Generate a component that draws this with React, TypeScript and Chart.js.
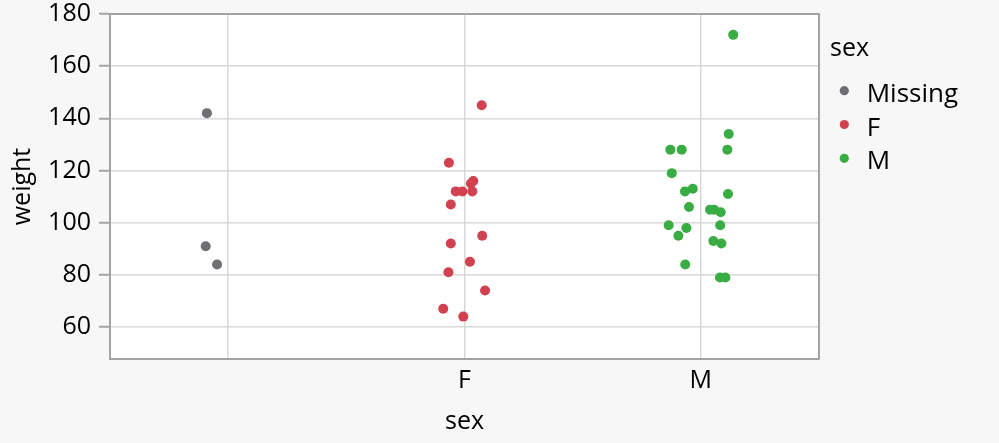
import React, { useEffect, useRef } from "react";
import { Chart, registerables } from "chart.js";

Chart.register(...registerables);

// ---- data ----
const categories = ["Missing", "F", "M"];
const xTickLabels = ["", "F", "M"];
const yTicks = [60, 80, 100, 120, 140, 160, 180];

const missingWeight = [142, 91, 84];
const missingJitter = [-0.09, -0.095, -0.047];

const fWeight = [145, 123, 116, 115, 112, 112, 112, 107, 95, 92, 85, 81, 74, 67, 64];
const fJitter = [0.073, -0.066, 0.037, 0.027, -0.037, -0.009, 0.033, -0.058, 0.075, -0.058, 0.023, -0.068, 0.087, -0.09, -0.005];

const mWeight = [172, 134, 128, 128, 128, 119, 112, 113, 111, 106, 105, 105, 104, 99, 99, 98, 95, 93, 92, 84, 79, 79];
const mJitter = [0.137, 0.118, -0.129, -0.081, 0.112, -0.123, -0.067, -0.034, 0.115, -0.05, 0.039, 0.056, 0.084, -0.136, 0.082, -0.061, -0.095, 0.053, 0.087, -0.066, 0.081, 0.104];

const seriesColors = ["#6f6f73", "#d1414f", "#3aac44"];

const FONT = "'Open Sans', 'Noto Sans', sans-serif";
const AXIS_GRAY = "#a3a3a3";
const GRID_GRAY = "#d8d8d8";

function toPoints(cat: number, w: number[], j: number[]) {
  return w.map((v, i) => ({ x: cat + j[i], y: v }));
}

const bgPlugin = {
  id: "bgPlugin",
  beforeDraw(chart: any) {
    const { ctx, chartArea } = chart;
    ctx.save();
    ctx.fillStyle = "#f7f7f7";
    ctx.fillRect(0, 0, chart.width, chart.height);
    ctx.fillStyle = "#ffffff";
    ctx.fillRect(chartArea.left, chartArea.top, chartArea.right - chartArea.left, chartArea.bottom - chartArea.top);
    ctx.restore();
  },
  afterDraw(chart: any) {
    const { ctx, chartArea } = chart;
    ctx.save();
    ctx.strokeStyle = AXIS_GRAY;
    ctx.lineWidth = 2;
    ctx.beginPath();
    ctx.moveTo(chartArea.left, chartArea.top);
    ctx.lineTo(chartArea.right, chartArea.top);
    ctx.lineTo(chartArea.right, chartArea.bottom);
    ctx.stroke();

    // legend
    ctx.fillStyle = "#000";
    ctx.font = `25px ${FONT}`;
    ctx.textBaseline = "alphabetic";
    ctx.textAlign = "left";
    ctx.fillText("sex", chartArea.right + 11, 56);
    ctx.font = `26px ${FONT}`;
    categories.forEach((c, i) => {
      const base = 101.7 + i * 33.8;
      ctx.fillStyle = seriesColors[i];
      ctx.beginPath();
      ctx.arc(chartArea.right + 25.3, base - 11, 4.6, 0, Math.PI * 2);
      ctx.fill();
      ctx.fillStyle = "#000";
      ctx.fillText(c, chartArea.right + 47.7, base);
    });
    ctx.restore();
  },
};

export default function App() {
  const ref = useRef<HTMLCanvasElement | null>(null);
  useEffect(() => {
    if (!ref.current) return;
    const datasets = [
      toPoints(0, missingWeight, missingJitter),
      toPoints(1, fWeight, fJitter),
      toPoints(2, mWeight, mJitter),
    ].map((d, i) => ({
      label: categories[i],
      data: d,
      backgroundColor: seriesColors[i],
      borderWidth: 0,
      pointRadius: 5,
      pointHoverRadius: 5,
    }));
    const chart = new Chart(ref.current, {
      type: "scatter",
      data: { datasets },
      plugins: [bgPlugin],
      options: {
        animation: false,
        responsive: false,
        events: [],
        layout: { padding: { top: 14, right: 180, left: 0, bottom: 0 } },
        plugins: { legend: { display: false }, tooltip: { enabled: false } },
        scales: {
          x: {
            type: "linear",
            min: -0.5,
            max: 2.5,
            afterBuildTicks: (s: any) => {
              s.ticks = [0, 1, 2].map((v) => ({ value: v }));
            },
            afterFit: (s: any) => {
              s.height = 84;
              s.paddingLeft = 0;
              s.paddingRight = 0;
            },
            ticks: {
              font: { family: FONT, size: 25 },
              color: "#000",
              padding: 7,
              callback: (v: any) => xTickLabels[Math.round(Number(v))] ?? "",
            },
            grid: { color: GRID_GRAY, lineWidth: 1.5, drawTicks: false },
            border: { color: AXIS_GRAY, width: 2 },
            title: {
              display: true,
              text: "sex",
              font: { family: FONT, size: 25 },
              color: "#000",
              padding: { top: 0, bottom: 6 },
            },
          },
          y: {
            type: "linear",
            min: 47.75,
            max: 180,
            afterBuildTicks: (s: any) => {
              s.ticks = yTicks.map((v) => ({ value: v }));
            },
            afterFit: (s: any) => {
              s.width = 110;
              s.paddingTop = 0;
              s.paddingBottom = 0;
            },
            ticks: {
              font: { family: FONT, size: 25, lineHeight: 1 },
              color: "#000",
              padding: 8,
            },
            grid: { color: GRID_GRAY, lineWidth: 1.5, tickLength: 11, tickColor: AXIS_GRAY, tickWidth: 2 },
            border: { color: AXIS_GRAY, width: 2 },
            title: {
              display: true,
              text: "weight",
              font: { family: FONT, size: 25 },
              color: "#000",
              padding: { top: 8, bottom: 0 },
            },
          },
        },
      },
    });
    return () => chart.destroy();
  }, []);
  return (
    <div style={{ position: "fixed", left: 0, top: 0, width: 999, height: 443, background: "#f7f7f7" }}>
      <canvas ref={ref} width={999} height={443} style={{ display: "block", width: 999, height: 443 }} />
    </div>
  );
}
